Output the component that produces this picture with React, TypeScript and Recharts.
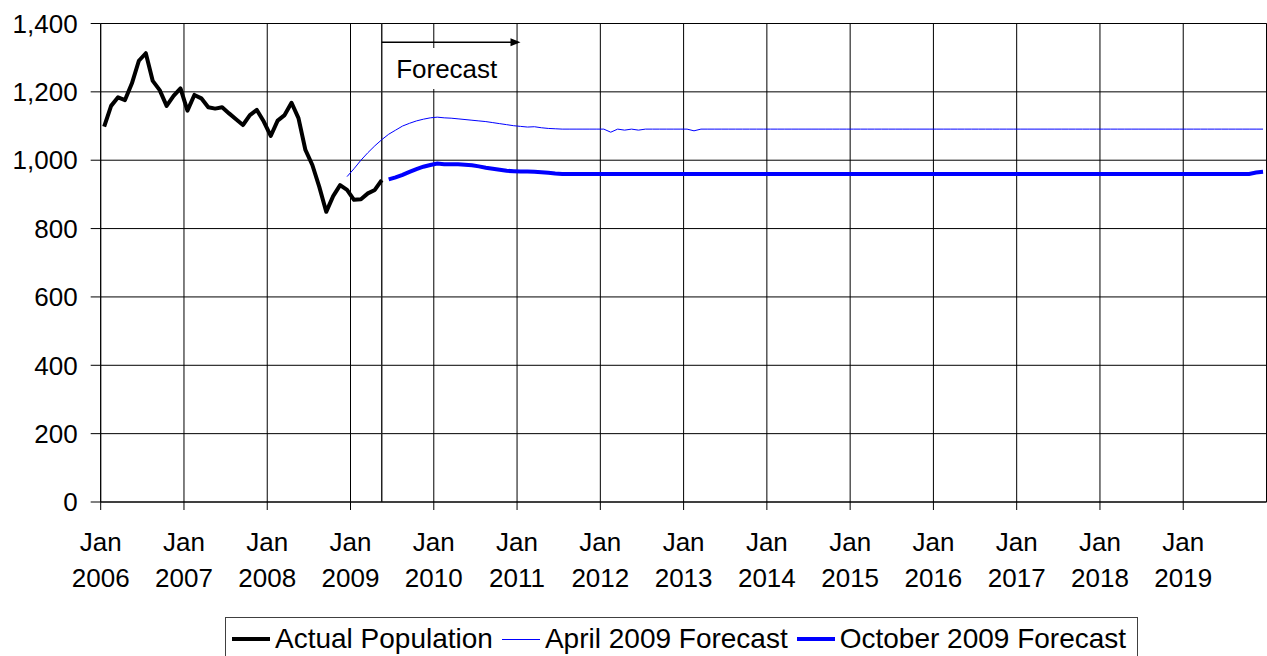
import React from 'react'
import { LineChart, Line, XAxis, YAxis, CartesianGrid, ReferenceLine, ReferenceArea } from 'recharts'

const FONT = '"Liberation Sans", Arial, sans-serif'

// x is months since Jan 2006, one tick per January
const YEAR_TICKS = [0, 12, 24, 36, 48, 60, 72, 84, 96, 108, 120, 132, 144, 156]
const YEAR_LABELS = ['2006', '2007', '2008', '2009', '2010', '2011', '2012', '2013', '2014', '2015', '2016', '2017', '2018', '2019']
const Y_TICKS = [0, 200, 400, 600, 800, 1000, 1200, 1400]
const MONTHS = 168

// Actual population, Jan 2006 - May 2009
const ACTUAL = [
  1098, 1159, 1184, 1176, 1225, 1291, 1313, 1232, 1205, 1159, 1188, 1210,
  1145, 1191, 1181, 1155, 1151, 1155, 1137, 1120, 1103, 1132, 1147, 1113,
  1071, 1116, 1132, 1168, 1123, 1030, 986, 922, 849, 895, 927, 913,
  884, 886, 903, 913, 942,
]

// April 2009 forecast, Dec 2008 - Dec 2019
const APRIL_START = 35
const APRIL = [
  952,
  975, 1000, 1022, 1042, 1060, 1076, 1088, 1100, 1108, 1115, 1120, 1124,
  1126, 1124, 1123, 1121, 1119, 1117, 1115, 1113, 1110, 1107, 1104, 1101,
  1099, 1097, 1098, 1095, 1093, 1092, 1091, 1091, 1091, 1091, 1091, 1091,
  1091, 1082, 1091, 1088, 1091, 1088, 1091, 1091, 1091, 1091, 1091, 1091,
  1091, 1086, 1091, 1091, 1091, 1091, 1091, 1091, 1091, 1091, 1091, 1091,
  1091, 1091, 1091, 1091, 1091, 1091, 1091, 1091, 1091, 1091, 1091, 1091,
  1091, 1091, 1091, 1091, 1091, 1091, 1091, 1091, 1091, 1091, 1091, 1091,
  1091, 1091, 1091, 1091, 1091, 1091, 1091, 1091, 1091, 1091, 1091, 1091,
  1091, 1091, 1091, 1091, 1091, 1091, 1091, 1091, 1091, 1091, 1091, 1091,
  1091, 1091, 1091, 1091, 1091, 1091, 1091, 1091, 1091, 1091, 1091, 1091,
  1091, 1091, 1091, 1091, 1091, 1091, 1091, 1091, 1091, 1091, 1091, 1091,
]

// October 2009 forecast, Jun 2009 - Dec 2019
const OCTOBER_START = 41
const OCTOBER = [
  944, 950, 957, 966, 974, 981, 986,
  990, 988, 988, 988, 987, 985, 982, 978, 975, 972, 969, 968,
  967, 967, 966, 965, 963, 961, 960, 960, 960, 960, 960, 960,
  960, 960, 960, 960, 960, 960, 960, 960, 960, 960, 960, 960,
  960, 960, 960, 960, 960, 960, 960, 960, 960, 960, 960, 960,
  960, 960, 960, 960, 960, 960, 960, 960, 960, 960, 960, 960,
  960, 960, 960, 960, 960, 960, 960, 960, 960, 960, 960, 960,
  960, 960, 960, 960, 960, 960, 960, 960, 960, 960, 960, 960,
  960, 960, 960, 960, 960, 960, 960, 960, 960, 960, 960, 960,
  960, 960, 960, 960, 960, 960, 960, 960, 960, 960, 960, 960,
  960, 960, 960, 960, 960, 960, 960, 960, 960, 960, 964, 966,
]

const FORECAST_START = 40.5
const FORECAST_ARROW_END = 60.5

const data = Array.from({ length: MONTHS }, (_, i) => ({
  m: i + 0.5,
  actual: i < ACTUAL.length ? ACTUAL[i] : null,
  april: i >= APRIL_START ? APRIL[i - APRIL_START] ?? null : null,
  october: i >= OCTOBER_START ? OCTOBER[i - OCTOBER_START] ?? null : null,
}))

function YearTick(props: any) {
  const { x, y, payload } = props
  const idx = YEAR_TICKS.indexOf(payload.value)
  return (
    <text x={x} y={y} textAnchor="middle" fontSize={26} fontFamily={FONT} fill="#000">
      <tspan x={x} dy={39}>Jan</tspan>
      <tspan x={x} dy={36}>{YEAR_LABELS[idx]}</tspan>
    </text>
  )
}

function ArrowShape(props: any) {
  const { x1, y1, x2, y2 } = props
  return (
    <g>
      <line x1={x1} y1={y1} x2={x2 - 6} y2={y2} stroke="#000" strokeWidth={1.5} />
      <path d={`M${x2},${y2} L${x2 - 10},${y2 - 4} L${x2 - 10},${y2 + 4} Z`} fill="#000" />
    </g>
  )
}

const LEGEND = [
  { label: 'Actual Population', color: '#000', width: 4 },
  { label: 'April 2009 Forecast', color: '#0000ff', width: 1 },
  { label: 'October 2009 Forecast', color: '#0000ff', width: 4 },
]

export default function App() {
  return (
    <div style={{ position: 'absolute', left: 0, top: 0, width: 1267, height: 656, overflow: 'hidden', background: '#fff' }}>
      <LineChart width={1267} height={656} data={data} margin={{ top: 23.5, right: 0.5, left: 0, bottom: 54 }}>
        <CartesianGrid stroke="#000" strokeWidth={1} />
        <XAxis
          dataKey="m"
          type="number"
          domain={[0, MONTHS]}
          ticks={YEAR_TICKS}
          interval={0}
          height={100}
          tickSize={8}
          tickMargin={2}
          stroke="#000"
          tick={<YearTick />}
        />
        <YAxis
          type="number"
          domain={[0, 1400]}
          ticks={Y_TICKS}
          width={100.7}
          tickSize={10}
          tickMargin={13}
          stroke="#000"
          tickFormatter={(v: number) => v.toLocaleString('en-US')}
          tick={{ fontSize: 26, fill: '#000', fontFamily: FONT }}
        />
        <ReferenceLine x={MONTHS} stroke="#000" />
        <ReferenceLine x={FORECAST_START} stroke="#222" strokeWidth={1.5} />
        <ReferenceArea
          x1={40.7}
          x2={59.3}
          y1={1208}
          y2={1328}
          fill="#fff"
          fillOpacity={1}
          stroke="none"
          label={{ value: 'Forecast', position: 'insideLeft', offset: 13, fontSize: 26, fill: '#000', fontFamily: FONT }}
        />
        <ReferenceLine
          segment={[{ x: FORECAST_START, y: 1345 }, { x: FORECAST_ARROW_END, y: 1345 }]}
          shape={<ArrowShape />}
        />
        <Line dataKey="actual" stroke="#000" strokeWidth={4} dot={false} isAnimationActive={false} strokeLinejoin="round" />
        <Line dataKey="april" stroke="#0000ff" strokeWidth={1} dot={false} isAnimationActive={false} />
        <Line dataKey="october" stroke="#0000ff" strokeWidth={4} dot={false} isAnimationActive={false} />
      </LineChart>
      <div
        style={{
          position: 'absolute', left: 225, top: 617, width: 913, height: 44,
          border: '1px solid #404040', boxSizing: 'border-box',
          display: 'flex', alignItems: 'center', paddingLeft: 6,
          fontFamily: FONT, fontSize: 28, color: '#000', whiteSpace: 'nowrap',
        }}
      >
        {LEGEND.map((item) => (
          <div key={item.label} style={{ display: 'flex', alignItems: 'center', marginRight: 9 }}>
            <div style={{ width: 38, height: item.width, background: item.color, marginRight: 5 }} />
            <span>{item.label}</span>
          </div>
        ))}
      </div>
    </div>
  )
}
